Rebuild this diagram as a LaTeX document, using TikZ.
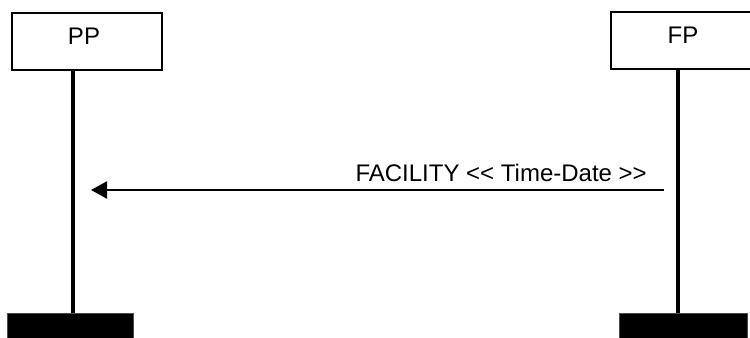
\documentclass[tikz,border=0pt]{standalone}
\usepackage{fontspec}
\setmainfont{Liberation Sans}[Ligatures=TeXOff]
\usetikzlibrary{calc, positioning, arrows.meta}

\tikzset{
    entity/.style={draw, line width=1.1pt, inner sep=0pt},
    bar/.style={fill=black, draw=black!70, inner sep=0pt, minimum height=18.75pt},
    lifeline/.style={line width=2.6pt},
    msg/.style={line width=1.5pt, -{Triangle[length=12pt, width=12.75pt]}},
    lbl/.style={inner sep=0pt, font=\fontsize{18}{21}\selectfont}
}

\begin{document}
\begin{tikzpicture}[x=0.75pt, y=-0.75pt]
            \useasboundingbox (0,0) rectangle (750,338);
            \node[entity, minimum width=112.5pt, minimum height=42.75pt] (pp) at (87,41.5) {};
            \node[entity, minimum width=108pt, minimum height=42.75pt] (fp) at (683,40.5) {};
            \node[lbl] (pplabel) at (84,36) {PP};
            \node[lbl] (fplabel) at (683,35) {FP};
            \node[bar, minimum width=94.5pt] (ppbar) at (70,325.5) {};
            \node[bar, minimum width=96pt] (fpbar) at (683,325.5) {};
            \coordinate (ppx) at (73,0);
            \coordinate (fpx) at (678,0);
            \draw[lifeline] (pp.south -| ppx) -- (ppbar.north -| ppx);
            \draw[lifeline] (fp.south -| fpx) -- (fpbar.north -| fpx);
            % message from FP to PP
            \coordinate (msgstart) at (664,190);
            \coordinate (msgend) at (91,190);
            \draw[msg] (msgstart) -- (msgend);
            \node[lbl, anchor=base east] (msglabel) at (647,182) {FACILITY << Time-Date >>};
        \end{tikzpicture}
\end{document}
